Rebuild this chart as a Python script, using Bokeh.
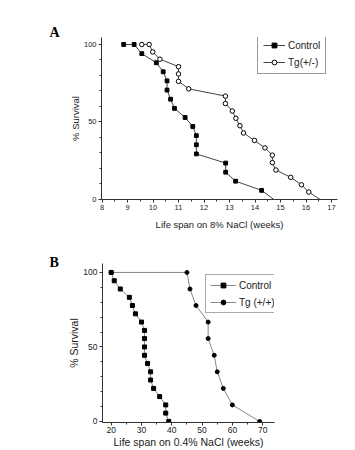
from bokeh.plotting import figure
from bokeh.models import Range1d, FixedTicker, Legend, LegendItem
from bokeh.embed import file_html
from bokeh.resources import INLINE

# Panel A: life span on 8% NaCl (weeks) vs % survival
a_ctrl_x = [8.85, 9.26, 9.56, 10.13, 10.40, 10.55, 10.55, 10.69, 10.84, 11.26, 11.56,
            11.70, 11.70, 11.70, 12.85, 12.85, 13.24, 14.26, 14.74]
a_ctrl_y = [100, 100, 94.1, 88.2, 82.4, 76.5, 70.6, 64.7, 58.8, 52.9, 47.1,
            41.2, 35.3, 29.4, 23.5, 17.6, 11.8, 5.9, 0]
a_tg_x = [9.56, 9.85, 9.99, 10.27, 11.00, 11.00, 11.00, 11.40, 12.84, 12.84, 13.11, 13.25,
          13.41, 13.55, 13.98, 14.39, 14.68, 14.68, 14.82, 15.40, 15.82, 16.11, 16.55]
a_tg_y = [100, 100, 95.2, 90.5, 85.7, 81.0, 76.2, 71.4, 66.7, 61.9, 57.1, 52.4,
          47.6, 42.9, 38.1, 33.3, 28.6, 23.8, 19.0, 14.3, 9.5, 4.8, 0]

# Panel B: life span on 0.4% NaCl (weeks) vs % survival
b_ctrl_x = [20, 21, 23, 26, 27, 28, 30, 31, 31, 31, 31, 32, 33, 33, 34, 36, 38, 38, 39]
b_ctrl_y = [100, 94.4, 88.9, 83.3, 77.8, 72.2, 66.7, 61.1, 55.6, 50.0, 44.4, 38.9,
            33.3, 27.8, 22.2, 16.7, 11.1, 5.6, 0]
b_tg_x = [20, 45, 46, 48, 52, 52, 54, 55, 57, 60, 69]
b_tg_y = [100, 100, 88.9, 77.8, 66.7, 55.6, 44.4, 33.3, 22.2, 11.1, 0]

a_xticks = [8, 9, 10, 11, 12, 13, 14, 15, 16, 17]
b_xticks = [20, 30, 40, 50, 60, 70]
yticks = [0, 50, 100]

FONT = "Liberation Sans"


def style(p, xticks, xminor, tick_size, title_size):
    for ax in (p.xaxis[0], p.yaxis[0]):
        ax.axis_line_color = "#333333"
        ax.major_tick_line_color = "#333333"
        ax.minor_tick_line_color = "#333333"
        ax.major_tick_in = 0
        ax.major_tick_out = 3
        ax.minor_tick_in = 0
        ax.minor_tick_out = 2
        ax.major_label_text_font = FONT
        ax.major_label_text_font_size = tick_size
        ax.major_label_text_color = "#222222"
        ax.major_label_standoff = 2
        ax.axis_label_text_font = FONT
        ax.axis_label_text_font_style = "normal"
        ax.axis_label_text_font_size = title_size
        ax.axis_label_text_color = "#222222"
        ax.axis_label_standoff = 2
    p.yaxis[0].axis_label_standoff = 0
    p.xaxis[0].ticker = FixedTicker(ticks=xticks, minor_ticks=xminor)
    p.yaxis[0].ticker = FixedTicker(ticks=yticks, minor_ticks=list(range(0, 101, 10)))
    p.xgrid.visible = False
    p.ygrid.visible = False
    p.outline_line_color = None
    p.background_fill_color = "white"
    p.border_fill_color = "white"
    p.title.text_font = "Liberation Serif"
    p.title.text_font_style = "bold"
    p.title.text_font_size = "14px"
    p.title.text_color = "black"
    p.title.align = "left"


# ---------- Panel A ----------
pa = figure(width=355, height=232, output_backend="svg", toolbar_location=None,
            title="A",
            x_range=Range1d(7.98, 17.235), y_range=Range1d(0, 104.5),
            min_border_left=101, min_border_right=18, min_border_top=37, min_border_bottom=32,
            x_axis_label="Life span on 8% NaCl (weeks)", y_axis_label="% Survival")
style(pa, a_xticks, [v / 2 for v in range(16, 35)], "7.5px", "9.5px")
pa.xaxis[0].axis_label_standoff = 6
pa.title.offset = -52
pa.title.standoff = -5

la1 = pa.line(a_ctrl_x, a_ctrl_y, line_color="#444444", line_width=1)
ma1 = pa.scatter(a_ctrl_x[:-1], a_ctrl_y[:-1], marker="square", size=3.8,
                 fill_color="black", line_color="black", line_width=1)
la2 = pa.line(a_tg_x, a_tg_y, line_color="#444444", line_width=1)
ma2 = pa.scatter(a_tg_x[:-1], a_tg_y[:-1], marker="circle", size=4.5,
                 fill_color="white", line_color="black", line_width=1)

leg_a = Legend(items=[LegendItem(label="Control", renderers=[la1, ma1]),
                      LegendItem(label="Tg(+/-)", renderers=[la2, ma2])],
               location=(156, 125), orientation="vertical",
               border_line_color="#333333", border_line_width=1,
               background_fill_color="white", background_fill_alpha=1,
               padding=5, spacing=5, margin=0, glyph_width=22, glyph_height=12,
               label_height=12, label_standoff=3,
               label_text_font=FONT, label_text_font_size="10px", label_text_color="#222222")
pa.add_layout(leg_a)

# ---------- Panel B ----------
pb = figure(width=355, height=218, output_backend="svg", toolbar_location=None,
            title="B",
            x_range=Range1d(17.13, 73.9), y_range=Range1d(-0.7, 106),
            min_border_left=102, min_border_right=81, min_border_top=31, min_border_bottom=27,
            x_axis_label="Life span on 0.4% NaCl (weeks)", y_axis_label="% Survival")
style(pb, b_xticks, list(range(20, 71, 5)), "8.5px", "10.5px")
pb.xaxis[0].major_label_standoff = 1
pb.xaxis[0].axis_label_standoff = 0
pb.title.offset = -53
pb.title.standoff = -12

lb2 = pb.line(b_tg_x, b_tg_y, line_color="#888888", line_width=1)
mb2 = pb.scatter(b_tg_x, b_tg_y, marker="circle", size=4,
                 fill_color="black", line_color="black")
lb1 = pb.line(b_ctrl_x, b_ctrl_y, line_color="#888888", line_width=1)
mb1 = pb.scatter(b_ctrl_x, b_ctrl_y, marker="square", size=4,
                 fill_color="black", line_color="black")

leg_b = Legend(items=[LegendItem(label="Control", renderers=[lb1, mb1]),
                      LegendItem(label="Tg (+/+)", renderers=[lb2, mb2])],
               location=(103, 109), orientation="vertical",
               border_line_color="#555555", border_line_width=1,
               background_fill_color="white", background_fill_alpha=1,
               padding=4, spacing=5, margin=0, glyph_width=26, glyph_height=12,
               label_height=12, label_standoff=3,
               label_text_font=FONT, label_text_font_size="10px", label_text_color="#222222")
pb.add_layout(leg_b)

open("out.html", "w").write(file_html([pa, pb], INLINE))
